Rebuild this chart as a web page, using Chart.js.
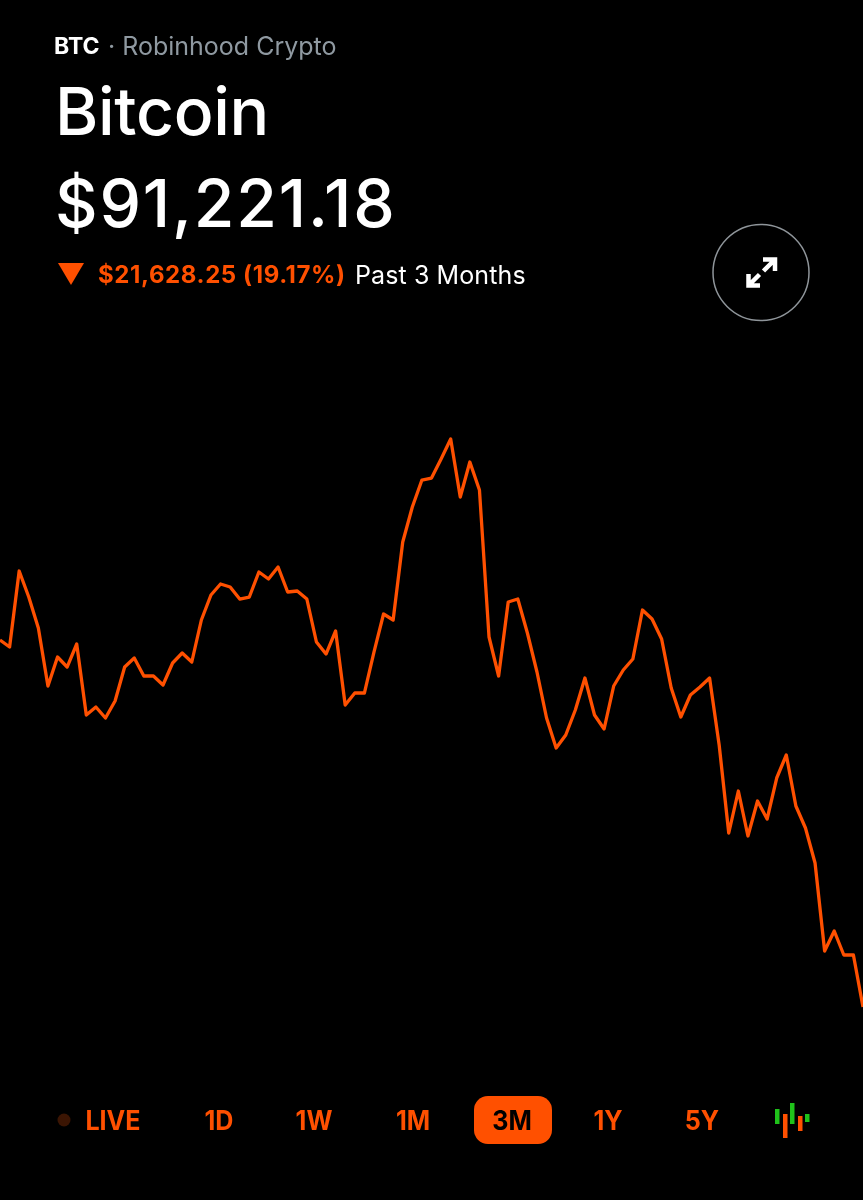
<!DOCTYPE html>
<html>
<head>
<meta charset="utf-8">
<title>Bitcoin</title>
<script src="https://cdn.jsdelivr.net/npm/chart.js@4"></script>
<style>
    html, body { margin: 0; background: #000; }
    #page { position: relative; width: 863px; height: 1200px; overflow: hidden; background: #000; font-family: Inter, sans-serif; }
    #page canvas { position: absolute; left: 0; top: 0; }
    .txt { position: absolute; white-space: nowrap; line-height: 1; color: #fff; }
    .range { position: absolute; top: 1107px; font-size: 27px; font-weight: 700; line-height: 1; color: #ff5000; transform: translateX(-50%) scaleX(0.93); }
    svg { position: absolute; left: 0; top: 0; }
</style>
</head>
<body>
<div id="page">
    <canvas id="myChart" width="863" height="1200"></canvas>
    <div class="txt" style="left:54px;top:35px;font-size:23px;font-weight:700">BTC</div>
    <div class="txt" style="left:108px;top:34px;font-size:25px;color:#8f99a1">· Robinhood Crypto</div>
    <div class="txt" style="left:55px;top:78px;font-size:66px;font-weight:500;letter-spacing:-0.3px">Bitcoin</div>
    <div class="txt" style="left:55px;top:170px;font-size:66px;font-weight:500;letter-spacing:1.8px">$91,221.18</div>
    <div class="txt" style="left:98px;top:263px;font-size:24px;font-weight:700;letter-spacing:0.6px;color:#ff5000">$21,628.25 (19.17%)</div>
    <div class="txt" style="left:355px;top:263px;font-size:25px;letter-spacing:0.1px">Past 3 Months</div>
    <svg width="863" height="1200">
        <polygon points="58,263 84,263 71,285" fill="#ff5000"/>
        <circle cx="761" cy="272.5" r="48" fill="none" stroke="#8f959a" stroke-width="1.5"/>
        <path d="M763 259.5 L775 259.5 L775 271 M775 259.5 L763.5 271" stroke="#fff" stroke-width="4.5" fill="none"/>
        <path d="M748.5 274 L748.5 285.5 L760 285.5 M748.5 285.5 L759.5 274.5" stroke="#fff" stroke-width="4.5" fill="none"/>
        <circle cx="64" cy="1120" r="6.5" fill="#3b1503"/>
        <rect x="474" y="1096" width="78" height="48" rx="14" fill="#ff5000"/>
        <rect x="775" y="1109" width="4.5" height="15" fill="#1fc21a"/>
        <rect x="783" y="1114" width="4.5" height="24" fill="#ff5000"/>
        <rect x="790" y="1103" width="4.5" height="21" fill="#1fc21a"/>
        <rect x="798" y="1116" width="4.5" height="15" fill="#ff5000"/>
        <rect x="805" y="1114" width="4.5" height="8" fill="#1fc21a"/>
    </svg>
    <div id="ranges"></div>
</div>
<script>
// prices, one per day-ish step
const prices = [
    112849, 112436, 116914, 115382, 113555, 110138, 111847, 111257, 112613, 108429,
    108900, 108252, 109254, 111257, 111788, 110727, 110727, 110196, 111493, 112082,
    111552, 114027, 115500, 116148, 115972, 115264, 115382, 116856, 116443, 117150,
    115677, 115736, 115264, 112730, 112023, 113379, 109018, 109725, 109725, 112141,
    114380, 114027, 118623, 120686, 122277, 122395, 123515, 124693, 121275, 123338,
    121688, 113025, 110727, 115088, 115264, 113261, 110963, 108252, 106484, 107250,
    108723, 110609, 108429, 107604, 110138, 111080, 111729, 114616, 114086, 112907,
    110020, 108311, 109607, 110079, 110609, 106661, 101475, 103950, 101298, 103361,
    102300, 104716, 106071, 103066, 101769, 99707, 94521, 95700, 94285, 94285,
    91221
];
const rangeLabels = ['LIVE', '1D', '1W', '1M', '3M', '1Y', '5Y'];
const rangeCenters = [113, 219, 314, 413, 512, 608, 702];

const steps = [];
for (let i = 0; i < prices.length; i++) steps.push(i);

rangeLabels.forEach(function(label, i){
    const el = document.createElement('div');
    el.className = 'range';
    el.textContent = label;
    el.style.left = rangeCenters[i] + 'px';
    if (label === '3M') el.style.color = '#000';
    document.getElementById('ranges').appendChild(el);
});

const config = {
    type: 'line',
    data: {
        labels: steps,
        datasets: [{
            data: prices,
            borderColor: '#ff5000',
            borderWidth: 3.3,
            borderJoinStyle: 'round',
            pointRadius: 0,
            tension: 0,
            fill: false
        }]
    },
    options: {
        responsive: false,
        animation: false,
        layout: { padding: 0 },
        plugins: {
            legend: { display: false },
            tooltip: { enabled: false }
        },
        scales: {
            x: { display: false, offset: false },
            y: { display: false, min: 79847, max: 150565 }
        }
    }
};
new Chart(document.getElementById('myChart'), config);
</script>
</body>
</html>
